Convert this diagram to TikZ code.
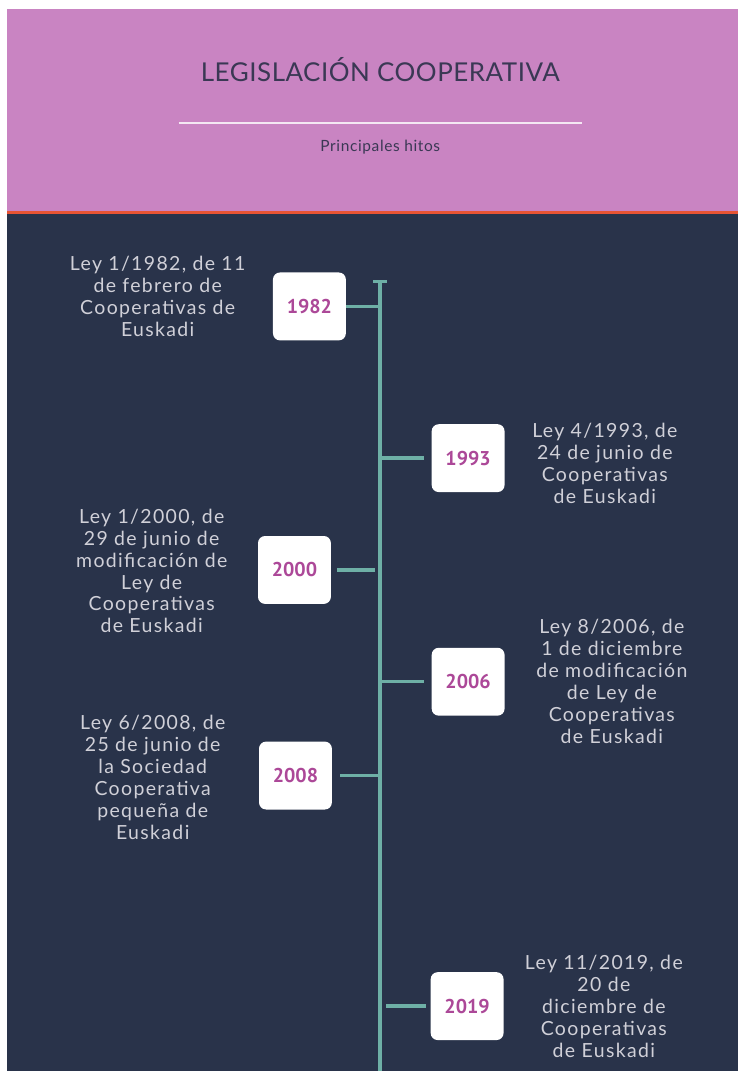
\documentclass[tikz,border=0pt]{standalone}
\usepackage{fontspec}
\setmainfont{Lato}
\newfontfamily\yearfont{PT Sans}
\newfontfamily\spacedfont[LetterSpace=7]{Lato}
\definecolor{hdrpink}{RGB}{201, 132, 194}
\definecolor{navybg}{RGB}{41, 51, 74}
\definecolor{hdrorange}{RGB}{231, 84, 52}
\definecolor{lineteal}{RGB}{110, 176, 166}
\definecolor{yearmagenta}{RGB}{172, 72, 152}
\definecolor{lawgrey}{RGB}{208, 208, 216}
\definecolor{titlegrey}{RGB}{58, 56, 84}
\usetikzlibrary{positioning}
\tikzset{
    yearbox/.style={rectangle, rounded corners=7pt, fill=white, minimum width=73pt,
                    minimum height=68pt, text=yearmagenta,
                    font=\yearfont\bfseries\fontsize{20}{22}\selectfont},
    lawtext/.style={align=center, inner sep=0pt, text=lawgrey,
                    font=\spacedfont\fontsize{19.5}{22}\selectfont},
    stem/.style={line width=4pt, lineteal},
    tick/.style={line width=3.5pt, lineteal},
}

\begin{document}
\begin{tikzpicture}[x=1pt, y=-1pt]
            % page and header
            \fill[white] (0,0) rectangle (739,1073);
            \fill[hdrpink] (7,9) rectangle (739,212);
            \fill[hdrorange] (7,211.5) rectangle (739,214.5);
            \fill[navybg] (7,214.5) rectangle (739,1073);
            \node[text=titlegrey, font=\addfontfeature{LetterSpace=2}\fontsize{26}{30}\selectfont] (title) at (381,70) {LEGISLACIÓN COOPERATIVA};
            \draw[white!80!hdrpink, line width=1.5pt] (179,123) -- (583,123);
            \node[text=titlegrey, font=\addfontfeature{LetterSpace=4}\fontsize{15.5}{18}\selectfont] (subtitle) at (381,147) {Principales hitos};
            
            % timeline
            \coordinate (linetop) at (381,282);
            \coordinate (linebot) at (381,1073);
            \draw[stem] (linetop) -- (linebot);
            \draw[line width=3pt, lineteal] ([xshift=-7pt]linetop) -- ([xshift=7pt]linetop);
            
            \node[yearbox] (y1982) at (310,307) {1982};
            \node[yearbox] (y1993) at (469,459) {1993};
            \node[yearbox] (y2000) at (295,571) {2000};
            \node[yearbox] (y2006) at (469,683) {2006};
            \node[yearbox] (y2008) at (296,777) {2008};
            \node[yearbox] (y2019) at (468,1008) {2019};
            
            \draw[tick] (y1982.east) -- (y1982.east -| linetop);
            \draw[tick, shorten <=8pt] (y1993.west) -- (y1993.west -| linetop);
            \draw[tick, shorten <=6pt, shorten >=5pt] (y2000.east) -- (y2000.east -| linetop);
            \draw[tick, shorten <=8pt] (y2006.west) -- (y2006.west -| linetop);
            \draw[tick, shorten <=8pt] (y2008.east) -- (y2008.east -| linetop);
            \draw[tick, shorten <=5pt, shorten >=6pt] (y2019.west) -- (y2019.west -| linetop);
            
            \node[lawtext] (law1982) at (158,297) {Ley 1/1982, de 11\\de febrero de\\Cooperativas de\\Euskadi};
            \node[lawtext] (law1993) at (606,464) {Ley 4/1993, de\\24 de junio de\\Cooperativas\\de Euskadi};
            \node[lawtext] (law2000) at (152,572) {Ley 1/2000, de\\29 de junio de\\modificación de\\Ley de\\Cooperativas\\de Euskadi};
            \node[lawtext] (law2006) at (613,683) {Ley 8/2006, de\\1 de diciembre\\de modificación\\de Ley de\\Cooperativas\\de Euskadi};
            \node[lawtext] (law2008) at (153,779) {Ley 6/2008, de\\25 de junio de\\la Sociedad\\Cooperativa\\pequeña de\\Euskadi};
            \node[lawtext] (law2019) at (605,1008) {Ley 11/2019, de\\20 de\\diciembre de\\Cooperativas\\de Euskadi};
        \end{tikzpicture}
\end{document}
